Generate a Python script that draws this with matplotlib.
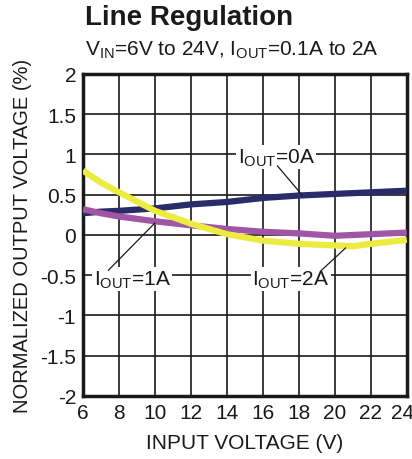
import matplotlib
matplotlib.use("Agg")
import matplotlib.pyplot as plt
import matplotlib.transforms as mtransforms

plt.rcParams['font.family'] = ['Liberation Sans', 'DejaVu Sans']
plt.rcParams['mathtext.fontset'] = 'custom'
plt.rcParams['mathtext.rm'] = 'Liberation Sans'
plt.rcParams['mathtext.it'] = 'Liberation Sans'

# input voltage (V)
vin = [6, 7, 8, 10, 12, 14, 16, 18, 20, 21, 22, 24]
# normalized output voltage (%)
iout_0a = [0.27, 0.29, 0.30, 0.33, 0.38, 0.41, 0.46, 0.49, 0.51, 0.52, 0.53, 0.55]
iout_1a = [0.32, 0.27, 0.23, 0.17, 0.12, 0.075, 0.04, 0.02, -0.01, 0.0, 0.01, 0.03]
iout_2a = [0.80, 0.65, 0.53, 0.30, 0.14, 0.01, -0.07, -0.11, -0.13, -0.14, -0.11, -0.06]

xticks = [6, 8, 10, 12, 14, 16, 18, 20, 22, 24]
yticks = [-2, -1.5, -1, -0.5, 0, 0.5, 1, 1.5, 2]
ytick_labels = ['-2', '-1.5', '-1', '-0.5', '0', '0.5', '1', '1.5', '2']

fig = plt.figure(figsize=(4.12, 4.6), dpi=100)
ax = fig.add_axes([0.2015, 0.137, 0.786, 0.70])

ax.plot(vin, iout_0a, color='#2a2c6a', linewidth=4.5, solid_capstyle='butt', zorder=3)
ax.plot(vin, iout_1a, color='#a055a5', linewidth=4.5, solid_capstyle='butt', zorder=4)
ax.plot(vin, iout_2a, color='#ecec40', linewidth=4.5, solid_capstyle='butt', zorder=5)

ax.set_xlim(6, 24)
ax.set_ylim(-2, 2)
ax.set_xticks(xticks)
ax.set_yticks(yticks)
ax.set_yticklabels(ytick_labels)
ax.grid(True, color='#1a1a1a', linewidth=1.2)
ax.tick_params(length=0, labelsize=15, pad=5, colors='#1a1a1a')
for s in ax.spines.values():
    s.set_linewidth(2.5)
    s.set_color('#1a1a1a')

# last x tick label sits at the figure edge, nudge it in a little
last = ax.get_xticklabels()[-1]
last.set_transform(last.get_transform() +
                   mtransforms.ScaledTranslation(-4 / 100, 0, fig.dpi_scale_trans))

box = dict(facecolor='white', edgecolor='none', pad=1)
lead = dict(arrowstyle='-', color='#1a1a1a', lw=0.9, shrinkA=0, shrinkB=0)

# curve labels
ax.text(14.6, 0.97, r'I$_{\mathrm{OUT}}$=0A', fontsize=15, color='#1a1a1a',
        va='center', ha='left', bbox=box, zorder=6)
ax.text(6.6, -0.55, r'I$_{\mathrm{OUT}}$=1A', fontsize=15, color='#1a1a1a',
        va='center', ha='left', bbox=box, zorder=6)
ax.text(15.4, -0.55, r'I$_{\mathrm{OUT}}$=2A', fontsize=15, color='#1a1a1a',
        va='center', ha='left', bbox=box, zorder=6)
# leader lines
ax.annotate('', xy=(18.2, 0.49), xytext=(16.8, 0.86), arrowprops=lead, zorder=6)
ax.annotate('', xy=(10.0, 0.15), xytext=(7.4, -0.44), arrowprops=lead, zorder=6)
ax.annotate('', xy=(20.6, -0.16), xytext=(19.2, -0.45), arrowprops=lead, zorder=6)

ax.set_xlabel('INPUT VOLTAGE (V)', fontsize=15, color='#1a1a1a', labelpad=8)
ax.set_ylabel('NORMALIZED OUTPUT VOLTAGE (%)', fontsize=14.5, color='#1a1a1a', labelpad=6)

fig.text(85 / 412, 1 - 18 / 460, 'Line Regulation', fontsize=20, fontweight='bold',
         color='#1a1a1a', va='center', ha='left')
fig.text(85 / 412, 1 - 50 / 460,
         r'V$_{\mathrm{IN}}$=6V to 24V, I$_{\mathrm{OUT}}$=0.1A to 2A',
         fontsize=15, color='#1a1a1a', va='center', ha='left')

fig.savefig('out.png', dpi=100)
